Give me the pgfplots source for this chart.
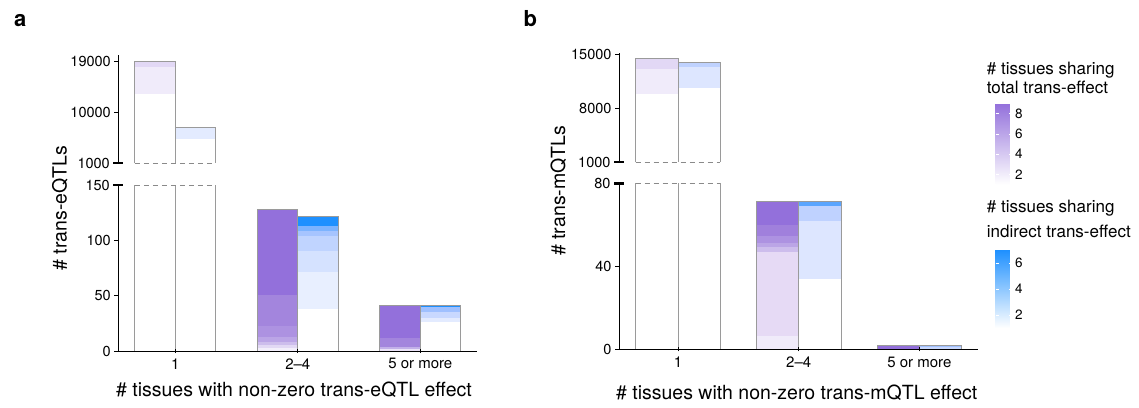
\documentclass[border=0pt]{standalone}
\usepackage{fontspec}
\setmainfont{TeX Gyre Heros}
\usepackage{pgfplots}
\pgfplotsset{compat=1.18}

\definecolor{mpurple}{HTML}{9370DB}
\definecolor{dblue}{HTML}{1E90FF}
\definecolor{outl}{HTML}{9A9A9A}
\definecolor{dashc}{HTML}{8A8A8A}
% purple shades
\definecolor{pu0}{HTML}{F3EFFB}
\definecolor{puA}{HTML}{F0EBFA}
\definecolor{puB}{HTML}{E2D8F5}
\definecolor{puC}{HTML}{EAE2F7}
\definecolor{puD}{HTML}{C2B0E9}
\definecolor{pu2}{HTML}{E6DAF5}
\definecolor{pu3}{HTML}{E2D8F4}
\definecolor{pu4}{HTML}{CDBDEC}
\definecolor{pu5}{HTML}{BBA5E6}
\definecolor{pu6}{HTML}{AD92E1}
\definecolor{pu7}{HTML}{A385DD}
\definecolor{pu8}{HTML}{A080DC}
\definecolor{pu9}{HTML}{9370DB}
% blue shades
\definecolor{bl0}{HTML}{E8EFFF}
\definecolor{bl1}{HTML}{E3EBFF}
\definecolor{bl2}{HTML}{DDE6FF}
\definecolor{bl3}{HTML}{D5E2FF}
\definecolor{bl4}{HTML}{C8D8FF}
\definecolor{bl5}{HTML}{C0D4FF}
\definecolor{bl6}{HTML}{BFD2FF}
\definecolor{bl7}{HTML}{A6C4FF}
\definecolor{bl8}{HTML}{9FC0FF}
\definecolor{bl9}{HTML}{7CB3FF}
\definecolor{bl10}{HTML}{5AA5FF}
\definecolor{bl11}{HTML}{1E90FF}

% band: x0 x1 y0 y1 colour
\newcommand\band[5]{\addplot[draw=none, fill=#5, forget plot] coordinates {(#1,#3) (#2,#3) (#2,#4) (#1,#4)} -- cycle;}

\pgfplotsset{
  base/.style={
    scale only axis, clip=false, axis on top,
    anchor=south west,
    axis y line=left,
    y axis line style={-, line width=1pt, black},
    x axis line style={-, line width=1pt, black},
    every tick/.style={black, line width=0.9pt},
    major tick length=4pt, tick align=outside,
    tick label style={font=\fontsize{14.5}{16}\selectfont},
    /pgf/number format/assume math mode=true,
    /pgf/number format/1000 sep={},
    scaled y ticks=false,
  },
  brk/.style={major tick length=10pt, tick align=center, tick style={line width=2.4pt}},
  ol/.style={outl, line width=0.9pt, forget plot},
  dl/.style={dashc, line width=0.9pt, dash pattern=on 5pt off 4pt, forget plot},
  botx/.style={axis x line=bottom, x axis line style={-, line width=1pt, black},
    xtick={1,2,3}, xticklabels={1,2--4,5 or more},
    xticklabel style={font=\fontsize{15}{17}\selectfont, yshift=-2pt}},
}

\begin{document}
\begin{tikzpicture}
\useasboundingbox (0,0) rectangle (1139pt,407pt);

% ================= panel a, top =================
\begin{axis}[base, at={(118.3pt,243.7pt)}, width=359pt, height=108.3pt,
  xmin=0.5347, xmax=3.4653, ymin=1000, ymax=20115, axis x line=none,
  ytick={10000,19000}, extra y ticks={1000}, extra y tick style={brk}]
\band{0.6694}{1}{13170}{17980}{puA}
\band{0.6694}{1}{17980}{19000}{puB}
\band{1}{1.3306}{5330}{7360}{bl1}
\addplot[ol] coordinates {(0.6694,1000) (0.6694,19000) (1,19000) (1,1000)};
\addplot[ol] coordinates {(1,7360) (1.3306,7360) (1.3306,1000)};
\addplot[dl] coordinates {(0.6694,1000) (1.3306,1000)};
\end{axis}

% ================= panel a, bottom =================
\begin{axis}[base, botx, at={(118.3pt,56pt)}, width=359pt, height=166pt,
  xmin=0.5347, xmax=3.4653, ymin=0, ymax=150,
  ytick={0,50,100}, extra y ticks={150}, extra y tick style={brk}]
% group 1
\addplot[ol] coordinates {(0.6694,150) (0.6694,0) (1.3306,0) (1.3306,150)};
\addplot[ol] coordinates {(1,0) (1,150)};
\addplot[dl] coordinates {(0.6694,150) (1.3306,150)};
% group 2, total
\band{1.6694}{2}{0}{2.4}{pu0}
\band{1.6694}{2}{2.4}{5.4}{pu3}
\band{1.6694}{2}{5.4}{8.4}{pu4}
\band{1.6694}{2}{8.4}{12.9}{pu5}
\band{1.6694}{2}{12.9}{22.6}{pu6}
\band{1.6694}{2}{22.6}{50.6}{pu7}
\band{1.6694}{2}{50.6}{128}{pu9}
% group 2, indirect
\band{2}{2.3306}{38}{71}{bl0}
\band{2}{2.3306}{71}{90.6}{bl3}
\band{2}{2.3306}{90.6}{104}{bl5}
\band{2}{2.3306}{104}{108.7}{bl7}
\band{2}{2.3306}{108.7}{113}{bl9}
\band{2}{2.3306}{113}{122}{bl11}
% group 3, total
\band{2.6694}{3}{0}{2}{puC}
\band{2.6694}{3}{2}{3.9}{puD}
\band{2.6694}{3}{3.9}{11.5}{pu7}
\band{2.6694}{3}{11.5}{41.6}{pu9}
% group 3, indirect
\band{3}{3.3306}{26.5}{30}{bl1}
\band{3}{3.3306}{30}{35.5}{bl4}
\band{3}{3.3306}{35.5}{39.5}{bl8}
\band{3}{3.3306}{39.5}{41.6}{bl11}
% outlines
\addplot[ol] coordinates {(1.6694,0) (1.6694,128) (2,128) (2,0)} -- cycle;
\addplot[ol] coordinates {(2,0) (2,122) (2.3306,122) (2.3306,0)} -- cycle;
\addplot[ol] coordinates {(2.6694,0) (2.6694,41.6) (3,41.6) (3,0)} -- cycle;
\addplot[ol] coordinates {(3,0) (3,41.6) (3.3306,41.6) (3.3306,0)} -- cycle;
\end{axis}

% ================= panel b, top =================
\begin{axis}[base, at={(619pt,244.7pt)}, width=359.4pt, height=109.6pt,
  xmin=0.5112, xmax=3.4888, ymin=1000, ymax=15170, axis x line=none,
  ytick={8000,15000}, extra y ticks={1000}, extra y tick style={brk}]
\band{0.6495}{1}{9800}{13050}{puA}
\band{0.6495}{1}{13050}{14440}{puB}
\band{1}{1.3505}{10580}{13300}{bl2}
\band{1}{1.3505}{13300}{13920}{bl6}
\addplot[ol] coordinates {(0.6495,1000) (0.6495,14440) (1,14440) (1,1000)};
\addplot[ol] coordinates {(1,13920) (1.3505,13920) (1.3505,1000)};
\addplot[dl] coordinates {(0.6495,1000) (1.3505,1000)};
\end{axis}

% ================= panel b, bottom =================
\begin{axis}[base, botx, at={(619pt,57.7pt)}, width=359.4pt, height=166pt,
  xmin=0.5112, xmax=3.4888, ymin=0, ymax=80,
  ytick={0,40}, extra y ticks={80}, extra y tick style={brk}]
\addplot[ol] coordinates {(0.6495,80) (0.6495,0) (1.3505,0) (1.3505,80)};
\addplot[ol] coordinates {(1,0) (1,80)};
\addplot[dl] coordinates {(0.6495,80) (1.3505,80)};
% group 2, total
\band{1.6495}{2}{0}{6.6}{puA}
\band{1.6495}{2}{6.6}{47}{pu2}
\band{1.6495}{2}{47}{49.5}{pu4}
\band{1.6495}{2}{49.5}{51.1}{pu5}
\band{1.6495}{2}{51.1}{54.7}{pu6}
\band{1.6495}{2}{54.7}{59.9}{pu8}
\band{1.6495}{2}{59.9}{71.1}{pu9}
% group 2, indirect
\band{2}{2.3505}{33.9}{62}{bl2}
\band{2}{2.3505}{62}{69}{bl6}
\band{2}{2.3505}{69}{71.1}{bl10}
% group 3
\band{2.6495}{3}{0}{1.7}{pu9}
\band{3}{3.3505}{0}{1.2}{bl4}
\band{3}{3.3505}{1.2}{1.7}{bl8}
\addplot[ol] coordinates {(1.6495,0) (1.6495,71.1) (2,71.1) (2,0)} -- cycle;
\addplot[ol] coordinates {(2,0) (2,71.1) (2.3505,71.1) (2.3505,0)} -- cycle;
\addplot[ol] coordinates {(2.6495,0) (2.6495,1.7) (3,1.7) (3,0)} -- cycle;
\addplot[ol] coordinates {(3,0) (3,1.7) (3.3505,1.7) (3.3505,0)} -- cycle;
\end{axis}

% ================= colour bars =================
\begin{axis}[at={(987pt,222.5pt)}, anchor=south west, scale only axis,
  width=16pt, height=81pt, hide axis, xmin=0, xmax=1, ymin=0, ymax=1,
  colormap={cpur}{rgb255=(255,255,255) rgb255=(147,112,219)},
  point meta min=1, point meta max=9, colorbar,
  colorbar style={at={(parent axis.south west)}, anchor=south west,
    scale only axis, width=16pt, height=81pt,
    ytick={2,4,6,8}, ytick pos=both, yticklabel pos=right,
    axis line style={draw=none},
    major tick length=3pt, tick align=inside,
    every tick/.style={white, line width=0.6pt},
    yticklabel style={font=\fontsize{13.5}{15}\selectfont, text=black},
    /pgf/number format/assume math mode=true}]
\addplot[draw=none] coordinates {(0,0)};
\end{axis}

\begin{axis}[at={(987pt,79pt)}, anchor=south west, scale only axis,
  width=16pt, height=78pt, hide axis, xmin=0, xmax=1, ymin=0, ymax=1,
  colormap={cblu}{rgb255=(255,255,255) rgb255=(30,144,255)},
  point meta min=1, point meta max=7, colorbar,
  colorbar style={at={(parent axis.south west)}, anchor=south west,
    scale only axis, width=16pt, height=78pt,
    ytick={2,4,6}, ytick pos=both, yticklabel pos=right,
    axis line style={draw=none},
    major tick length=3pt, tick align=inside,
    every tick/.style={white, line width=0.6pt},
    yticklabel style={font=\fontsize{13.5}{15}\selectfont, text=black},
    /pgf/number format/assume math mode=true}]
\addplot[draw=none] coordinates {(0,0)};
\end{axis}

% ================= texts =================
\begin{scope}[every node/.style={inner sep=0pt}]
\node[anchor=base west, font=\bfseries\fontsize{22}{24}\selectfont] at (14pt,380.3pt) {a};
\node[anchor=base west, font=\bfseries\fontsize{22}{24}\selectfont] at (523.3pt,380.3pt) {b};
\node[anchor=base, rotate=90, font=\fontsize{19.5}{22}\selectfont] at (66.5pt,199pt) {\# trans-eQTLs};
\node[anchor=base, rotate=90, font=\fontsize{19.5}{22}\selectfont] at (565pt,216.2pt) {\# trans-mQTLs};
\node[anchor=base, font=\fontsize{19.5}{22}\selectfont] at (294pt,10.3pt) {\# tissues with non-zero trans-eQTL effect};
\node[anchor=base, font=\fontsize{19.5}{22}\selectfont] at (796.7pt,7.5pt) {\# tissues with non-zero trans-mQTL effect};
\node[anchor=base west, font=\fontsize{17}{20}\selectfont] at (986.7pt,332pt) {\# tissues sharing};
\node[anchor=base west, font=\fontsize{17}{20}\selectfont] at (986.7pt,313.7pt) {total trans-effect};
\node[anchor=base west, font=\fontsize{17}{20}\selectfont] at (986.7pt,194pt) {\# tissues sharing};
\node[anchor=base west, font=\fontsize{17}{20}\selectfont] at (986.7pt,169.5pt) {indirect trans-effect};
\end{scope}
\end{tikzpicture}
\end{document}
